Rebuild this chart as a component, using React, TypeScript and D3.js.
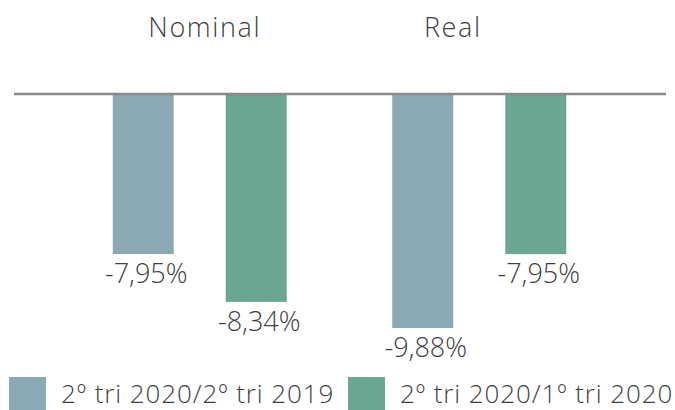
import React from "react";
import * as d3 from "d3";

const groups = ["Nominal", "Real"];
const seriesNames = ["2º tri 2020/2º tri 2019", "2º tri 2020/1º tri 2020"];
const seriesColors = ["#8AA9B2", "#6BA690"];
// bar lengths as drawn in the picture (percentage points)
const nominalValues = [-6.76, -8.78];
const realValues = [-9.88, -6.76];
// labels printed under each bar
const nominalLabels = ["-7,95%", "-8,34%"];
const realLabels = ["-9,88%", "-7,95%"];

const W = 675;
const H = 410;
const FONT = "'Open Sans', Lato, sans-serif";
const TEXT = "#3f3f3f";

export default function App() {
  const x0 = d3.scaleBand<string>().domain(groups).range([60, 619]);
  const x1 = d3.scalePoint<number>().domain([0, 1]).range([-56.5, 56.5]);
  const y = d3.scaleLinear().domain([0, -10]).range([94, 330.8]);
  const barW = 61;

  const data = groups.flatMap((g, gi) => {
    const vals = gi === 0 ? nominalValues : realValues;
    const labs = gi === 0 ? nominalLabels : realLabels;
    return vals.map((v, si) => ({ g, si, v, label: labs[si] }));
  });

  const titleShift: Record<string, number> = { Nominal: 5, Real: -26.5 };

  return (
    <svg
      width={W}
      height={H}
      style={{ position: "absolute", left: 0, top: 0, background: "#fff" }}
    >
      {data.map((d, i) => {
        const cx = (x0(d.g) ?? 0) + x0.bandwidth() / 2 + (x1(d.si) ?? 0);
        return (
          <g key={i}>
            <rect
              x={cx - barW / 2}
              y={y(0)}
              width={barW}
              height={y(d.v) - y(0)}
              fill={seriesColors[d.si]}
            />
            <text
              x={cx + 3}
              y={y(d.v) + 29}
              textAnchor="middle"
              fontFamily={FONT}
              fontWeight={300}
              fontSize={27}
              fill={TEXT}
            >
              {d.label}
            </text>
          </g>
        );
      })}
      <line x1={14} x2={666} y1={y(0)} y2={y(0)} stroke="#8a8a8a" strokeWidth={2.6} />
      {groups.map((g) => (
        <text
          key={g}
          x={(x0(g) ?? 0) + x0.bandwidth() / 2 + titleShift[g]}
          y={37}
          textAnchor="middle"
          fontFamily={FONT}
          fontWeight={300}
          fontSize={27}
          letterSpacing={1.6}
          fill={TEXT}
        >
          {g}
        </text>
      ))}
      {seriesNames.map((s, i) => {
        const lx = i === 0 ? 9 : 348;
        return (
          <g key={s}>
            <rect x={lx} y={377} width={37} height={37} fill={seriesColors[i]} />
            <text
              x={lx + 52}
              y={403}
              fontFamily={FONT}
              fontWeight={300}
              fontSize={26}
              letterSpacing={0.9}
              fill={TEXT}
            >
              {s}
            </text>
          </g>
        );
      })}
    </svg>
  );
}
